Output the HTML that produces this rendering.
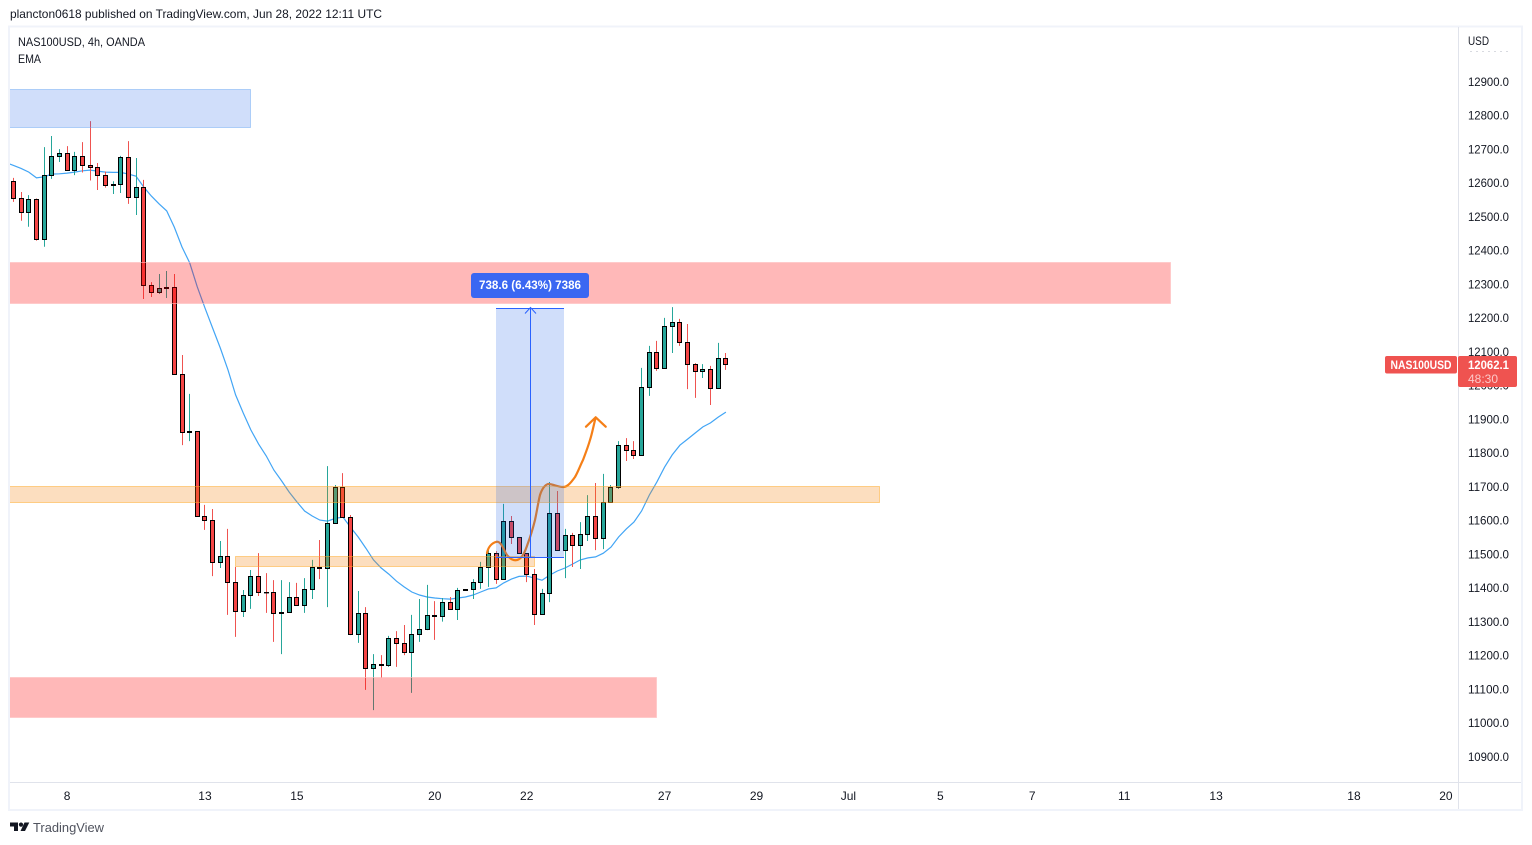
<!DOCTYPE html>
<html>
<head>
<meta charset="utf-8">
<title>NAS100USD 4h chart</title>
<style>
html,body{margin:0;padding:0;background:#fff;}
svg{display:block;}
text{font-family:"Liberation Sans",sans-serif;font-size:12px;fill:#131722;}
</style>
</head>
<body>
<svg id="chart" width="1532" height="845" viewBox="0 0 1532 845" xmlns="http://www.w3.org/2000/svg">
  <defs><clipPath id="pane"><rect x="10" y="27" width="1448" height="755"/></clipPath></defs>
  <text x="10" y="18" textLength="372" lengthAdjust="spacingAndGlyphs">plancton0618 published on TradingView.com, Jun 28, 2022 12:11 UTC</text>
  <rect x="9" y="26.5" width="1513" height="783.5" fill="none" stroke="#f0f3fa" stroke-width="2"/>
  <g id="pane-layer" clip-path="url(#pane)">
    <g id="ema-layer"></g>
    <g id="candle-layer"></g>
    <g>
      <rect x="8" y="89.5" width="242.5" height="38" fill="rgba(33,100,230,0.21)" stroke="rgba(100,165,245,0.45)"/>
      <rect x="8" y="262.5" width="1162.5" height="41" fill="rgba(255,0,0,0.28)" stroke="rgba(255,190,190,0.6)"/>
      <rect x="8" y="677.5" width="648.5" height="40" fill="rgba(255,0,0,0.28)" stroke="rgba(255,190,190,0.6)"/>
      <path d="M487 553 C488 548 491 543 497 541.7 C502 542 504 551 507 555 C510 559 514 561 517 560 C522 559 525 552 528 543 C531 535 533 528 535 520 C537 511 538 503 540 495 C542 489 545 485 548 484 C553 484 558 487 563 487 C567 487 570 484 575 477 C578 472 580 466 583 460 C586 452 588 447 590 440 C592 434 593 428 595.7 417.3 M586 426.7 L595.7 417.3 L605.7 426.7" fill="none" stroke="#f57f17" stroke-width="2.2" stroke-linejoin="round" stroke-linecap="round"/>
      <rect x="235.5" y="556.5" width="299" height="10" fill="rgba(245,124,0,0.25)" stroke="rgba(255,170,40,0.5)"/>
      <rect x="8" y="486.5" width="871.5" height="16" fill="rgba(245,124,0,0.25)" stroke="rgba(255,170,40,0.5)"/>
      <rect x="496" y="308" width="68" height="249" fill="rgba(33,100,230,0.21)"/>
      <path d="M496 308.5H564M496 557.5H564M530.5 557V308M525 313.5L530.5 307.5L536 313.5" fill="none" stroke="#2962ff" stroke-width="1"/>
    </g>
  </g>
  <rect x="471" y="273" width="118" height="25" rx="3" fill="#3a67f2"/>
  <text x="530" y="289" text-anchor="middle" font-weight="bold" style="fill:#fff;" textLength="102" lengthAdjust="spacingAndGlyphs">738.6 (6.43%) 7386</text>
  <line x1="1458.5" y1="27" x2="1458.5" y2="809" stroke="#e0e3eb"/>
  <line x1="10" y1="782.5" x2="1521" y2="782.5" stroke="#e0e3eb"/>
  <text x="18" y="46" textLength="127" lengthAdjust="spacingAndGlyphs">NAS100USD, 4h, OANDA</text>
  <text x="18" y="63" textLength="23" lengthAdjust="spacingAndGlyphs">EMA</text>
  <text x="1468" y="45" textLength="21" lengthAdjust="spacingAndGlyphs">USD</text>
  <line x1="1470" y1="51.5" x2="1510" y2="51.5" stroke="#d8dae0" stroke-dasharray="2 4"/>
  <g id="price-ticks"></g>
  <g id="time-ticks"></g>
  <rect x="1385" y="356" width="72" height="17.5" rx="2" fill="#ef5350"/>
  <text x="1421" y="369" text-anchor="middle" style="fill:#fff;" font-weight="bold" textLength="61" lengthAdjust="spacingAndGlyphs">NAS100USD</text>
  <rect x="1458" y="356" width="59" height="31" rx="2" fill="#ef5350"/>
  <text x="1468" y="369" font-weight="bold" style="fill:#fff;" textLength="41" lengthAdjust="spacingAndGlyphs">12062.1</text>
  <text x="1468" y="383" style="fill:#fcc9c9;" textLength="30" lengthAdjust="spacingAndGlyphs">48:30</text>
  <g fill="#131722">
    <path d="M10 822.5H18V831H14V826.5H10Z"/>
    <circle cx="21" cy="824.6" r="2.1"/>
    <path d="M24.5 822.5H29.3L25 831H20.5Z"/>
  </g>
  <text x="33" y="832" textLength="71" lengthAdjust="spacingAndGlyphs" style="font-size:13px;fill:#50535e;">TradingView</text>
</svg>
<script>
const opens = [12606,12555,12514,12552,12434,12624,12680,12689,12638,12680,
12653,12646,12624,12594,12597,12677,12558,12588,12298,12277,
12289,12290,12034,11862,11863,11613,11601,11477,11495,11418,
11332,11379,11435,11388,11387,11326,11329,11373,11349,11397,
11462,11459,11592,11699,11610,11264,11326,11163,11175,11172,
11252,11237,11210,11264,11278,11320,11317,11358,11338,11394,
11397,11418,11462,11504,11426,11598,11551,11504,11441,11323,
11385,11622,11512,11557,11527,11560,11613,11548,11655,11699,
11824,11809,11794,11995,12099,12052,12176,12188,12129,12064,
12043,12049,11993,12081];
const highs = [12616,12574,12565,12555,12707,12740,12701,12710,12693,12722,
12784,12660,12635,12606,12681,12725,12675,12610,12307,12331,
12340,12331,12091,11976,11863,11647,11635,11540,11576,11463,
11395,11454,11504,11445,11424,11424,11418,11416,11430,11484,
11543,11762,11706,11741,11617,11392,11344,11205,11202,11259,
11273,11291,11321,11368,11410,11362,11371,11374,11401,11397,
11427,11478,11516,11510,11650,11614,11551,11504,11457,11398,
11715,11688,11576,11564,11596,11676,11712,11739,11706,11836,
11845,11836,12053,12118,12133,12201,12233,12198,12183,12067,
12064,12059,12127,12097];
const lows = [12545,12489,12471,12430,12412,12613,12663,12637,12624,12632,
12608,12580,12587,12568,12571,12539,12506,12257,12263,12272,
12260,12034,11824,11836,11613,11573,11436,11460,11321,11256,
11315,11339,11377,11327,11241,11205,11327,11349,11327,11368,
11427,11344,11592,11610,11261,11238,11099,11039,11134,11167,
11167,11202,11090,11241,11276,11247,11301,11336,11306,11394,
11368,11398,11404,11413,11426,11531,11504,11418,11291,11323,
11359,11512,11430,11463,11457,11540,11513,11516,11655,11694,
11777,11783,11794,11970,12044,12053,12097,12118,11990,11964,
12023,11943,11993,12047];
const closes = [12555,12514,12552,12434,12624,12680,12689,12638,12680,12653,
12646,12624,12594,12597,12677,12558,12588,12298,12277,12289,
12290,12034,11862,11863,11613,11601,11477,11495,11418,11332,
11379,11435,11388,11387,11326,11329,11373,11349,11397,11462,
11459,11592,11699,11610,11264,11326,11163,11175,11172,11252,
11237,11210,11264,11278,11320,11317,11358,11338,11394,11397,
11418,11462,11504,11426,11598,11551,11504,11441,11323,11385,
11622,11512,11557,11527,11560,11613,11548,11655,11699,11824,
11809,11794,11995,12099,12052,12176,12188,12129,12064,12043,
12049,11993,12081,12062.1];
/* EMA: first value belongs to the bar just left of the visible pane */
const emaValues = [12661,12653,12644,12633,12616,12619,12627,12628,12630,12633,
12637,12639,12636,12633,12632,12632,12627,12621,12589,12562,
12539,12518,12470,12411,12364,12293,12230,12171,12112,12047,
11973,11919,11869,11827,11792,11750,11718,11685,11656,11629,
11614,11602,11599,11607,11611,11581,11552,11519,11484,11460,
11442,11421,11404,11389,11380,11374,11371,11369,11368,11371,
11374,11380,11389,11398,11401,11416,11427,11435,11436,11430,
11424,11439,11451,11460,11472,11484,11490,11493,11504,11522,
11552,11576,11596,11629,11676,11715,11759,11795,11824,11842,
11860,11878,11890,11907,11922];
const priceTicks = [12900,12800,12700,12600,12500,12400,12300,12200,12100,12000,11900,11800,11700,11600,11500,11400,11300,11200,11100,11000,10900];
const timeLabels = ["8","13","15","20","22","27","29","Jul","5","7","11","13","18","20"];
const timeBars = [7,25,37,55,67,85,97,109,121,133,145,157,175,187];

const SVG_NS = "http://www.w3.org/2000/svg";
function xScale(i){ return 13.48 + 7.66 * i; }
function yScale(p){ return 82 + (12900 - p) * 0.3375; }
function snap(v){ return Math.floor(v) + 0.5; }
function make(tag, parent, attrs){
  const el = document.createElementNS(SVG_NS, tag);
  for (const k in attrs) el.setAttribute(k, attrs[k]);
  parent.appendChild(el);
  return el;
}

const emaLayer = document.getElementById("ema-layer");
const emaPts = emaValues.map(function(v, i){ return xScale(i - 1).toFixed(1) + "," + yScale(v).toFixed(1); }).join(" ");
const emaLine = make("polyline", emaLayer, {points: emaPts, fill: "none", stroke: "#42a5f5", "stroke-width": 1.2});



const candleLayer = document.getElementById("candle-layer");
closes.forEach(function(c, i){
  const o = opens[i];
  const up = c >= o;
  const cx = snap(xScale(i));
  const g = make("g", candleLayer, {});
  
  
  const wick = make("line", g, {x1: cx, x2: cx, y1: yScale(highs[i]), y2: yScale(lows[i]), stroke: up ? "#26a69a" : "#ef5350", "stroke-width": 1});
  
  
  const top = snap(yScale(Math.max(o, c)));
  const bottom = snap(yScale(Math.min(o, c)));
  const body = make("rect", g, {x: cx - 2, y: top, width: 4, height: Math.max(bottom - top, 0.4), fill: up ? "#26a69a" : "#f44545", stroke: "#000", "stroke-width": 1});
  
  
});

const priceGroup = document.getElementById("price-ticks");
priceTicks.forEach(function(p){
  const t = make("text", priceGroup, {x: 1468, y: yScale(p) + 3.8, textLength: 41, lengthAdjust: "spacingAndGlyphs"});
  
  
  t.textContent = p.toFixed(1);
});

const timeGroup = document.getElementById("time-ticks");
timeLabels.forEach(function(label, i){
  const t = make("text", timeGroup, {x: xScale(timeBars[i]), y: 800, "text-anchor": "middle"});
  
  
  t.textContent = label;
});
</script>
</body>
</html>
